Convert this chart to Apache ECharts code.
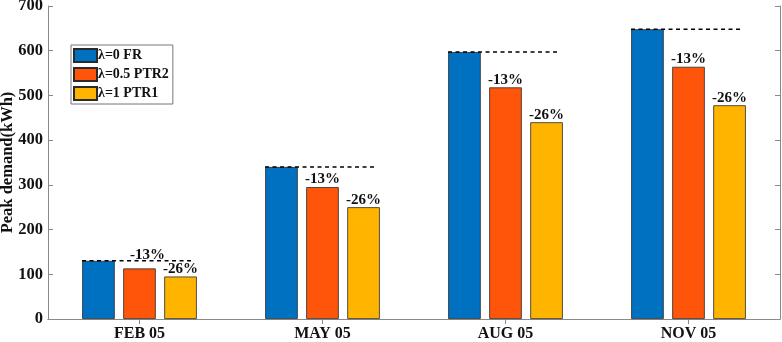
<!DOCTYPE html>
<html>
<head>
<meta charset="utf-8">
<script src="https://cdn.jsdelivr.net/npm/echarts@6/dist/echarts.min.js"></script>
<style>
  html, body { margin: 0; padding: 0; background: #fff; }
  #chart { width: 782px; height: 342px; }
</style>
</head>
<body>
<div id="chart"></div>
<script>
// data
const categories = ['FEB 05', 'MAY 05', 'AUG 05', 'NOV 05'];
const seriesNames = ['λ=0 FR', 'λ=0.5 PTR2', 'λ=1 PTR1'];
const frValues = [130, 340, 597, 648];
const ptr2Values = [113, 295, 518, 564];
const ptr1Values = [95, 250, 440, 478];
const ptr2Labels = ['-13%', '-13%', '-13%', '-13%'];
const ptr1Labels = ['-26%', '-26%', '-26%', '-26%'];
const yTicks = [0, 100, 200, 300, 400, 500, 600, 700];

const FONT = '"Liberation Serif", "Times New Roman", serif';
const axisGray = '#8a8a8a';

const chart = echarts.init(document.getElementById('chart'));

const barLabel = (labels) => ({
    show: true,
    position: 'top',
    distance: 0,
    fontFamily: FONT,
    fontWeight: 'bold',
    fontSize: 15,
    color: '#111',
    formatter: p => labels[p.dataIndex]
});

chart.setOption({
    animation: false,
    backgroundColor: '#fff',
    grid: { left: 48, right: 2, top: 6, bottom: 23, containLabel: false, outerBoundsMode: 'none' },
    legend: {
        data: seriesNames,
        orient: 'vertical',
        left: 71,
        top: 45,
        padding: [3, 4, 3, 2],
        itemWidth: 23,
        itemHeight: 13,
        itemGap: 4,
        borderColor: '#777',
        borderWidth: 1,
        backgroundColor: '#fff',
        icon: 'rect',
        textStyle: {
            fontFamily: FONT, fontWeight: 'bold', fontSize: 14, color: '#111',
            padding: [0, 0, 0, -4]
        }
    },
    xAxis: [
        {
            type: 'category',
            data: categories,
            axisLine: { lineStyle: { color: axisGray, width: 1 } },
            axisTick: { show: true, inside: true, length: 5, alignWithLabel: true, lineStyle: { color: axisGray } },
            axisLabel: { fontFamily: FONT, fontWeight: 'bold', fontSize: 16, color: '#111', margin: 7 }
        },
        {
            type: 'category',
            data: categories,
            position: 'top',
            axisLine: { lineStyle: { color: axisGray, width: 1 } },
            axisTick: { show: true, inside: true, length: 5, alignWithLabel: true, lineStyle: { color: axisGray } },
            axisLabel: { show: false }
        }
    ],
    yAxis: [
        {
            type: 'value',
            min: yTicks[0],
            max: yTicks[yTicks.length - 1],
            interval: 100,
            name: 'Peak demand(kWh)',
            nameLocation: 'middle',
            nameGap: 32,
            nameMoveOverlap: false,
            nameTextStyle: { fontFamily: FONT, fontWeight: 'bold', fontSize: 16.5, color: '#111' },
            axisLine: { show: true, lineStyle: { color: axisGray, width: 1 } },
            axisTick: { show: true, inside: true, length: 5, lineStyle: { color: axisGray } },
            axisLabel: { fontFamily: FONT, fontWeight: 'bold', fontSize: 16.5, color: '#111', margin: 5 },
            splitLine: { show: false }
        },
        {
            type: 'value',
            min: yTicks[0],
            max: yTicks[yTicks.length - 1],
            interval: 100,
            position: 'right',
            axisLine: { show: true, lineStyle: { color: axisGray, width: 1 } },
            axisTick: { show: true, inside: true, length: 5, lineStyle: { color: axisGray } },
            axisLabel: { show: false },
            splitLine: { show: false }
        }
    ],
    series: [
        {
            name: seriesNames[0],
            type: 'bar',
            data: frValues,
            barWidth: '17.8%',
            barGap: '26%',
            itemStyle: { color: '#0070C0', borderColor: '#2a2a2a', borderWidth: 0.8 }
        },
        {
            name: seriesNames[1],
            type: 'bar',
            // FEB label sits above the dashed line in the original
            data: ptr2Values.map((v, i) => i === 0
                ? { value: v, label: { offset: [8, -6] } }
                : v),
            barWidth: '17.8%',
            barGap: '26%',
            itemStyle: { color: '#FF550A', borderColor: '#2a2a2a', borderWidth: 0.8 },
            label: barLabel(ptr2Labels)
        },
        {
            name: seriesNames[2],
            type: 'bar',
            data: ptr1Values,
            barWidth: '17.8%',
            barGap: '26%',
            itemStyle: { color: '#FFB400', borderColor: '#2a2a2a', borderWidth: 0.8 },
            label: barLabel(ptr1Labels)
        },
        {
            // dashed reference line at FR level across each group
            name: 'ref',
            type: 'custom',
            z: 5,
            data: frValues.map((v, i) => [i, v]),
            renderItem: (params, api) => {
                const c = api.coord([api.value(0), api.value(1)]);
                const band = api.size([1, 0])[0];
                return {
                    type: 'line',
                    shape: { x1: c[0] - band * 0.314, y1: c[1], x2: c[0] + band * 0.30, y2: c[1] },
                    style: { stroke: '#000', lineWidth: 1.5, lineDash: [4, 3.5] }
                };
            }
        }
    ]
});
</script>
</body>
</html>
